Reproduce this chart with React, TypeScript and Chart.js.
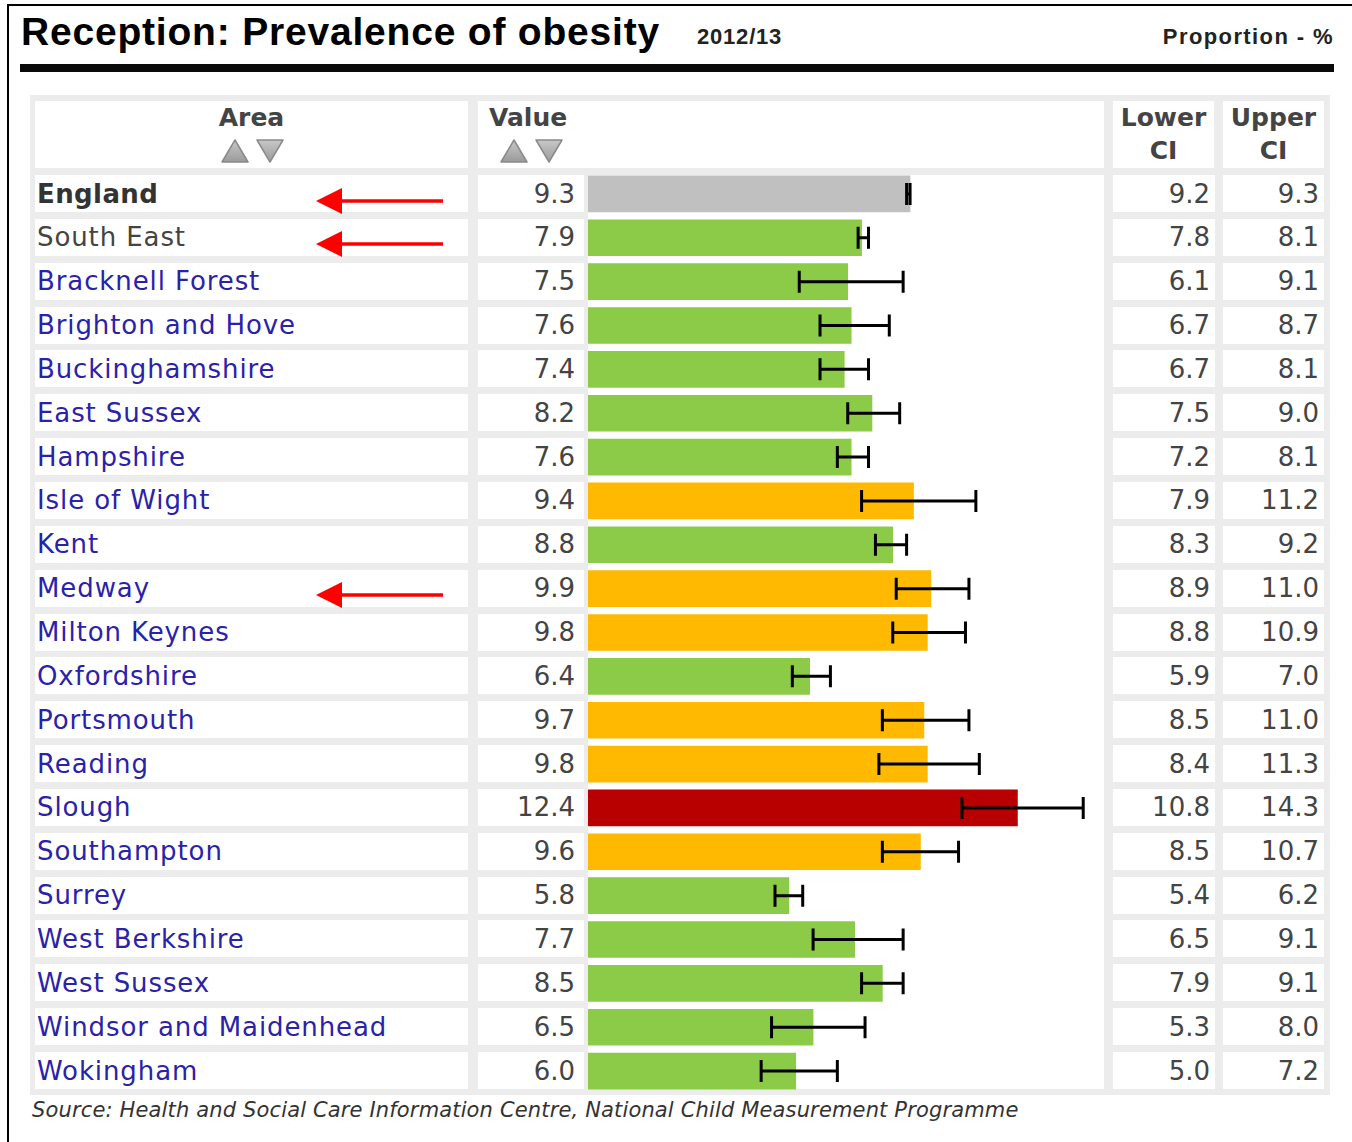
import React, { useEffect, useRef } from "react";
import { Chart, registerables } from "chart.js";
Chart.register(...registerables);

const areas = [
  "England", "South East", "Bracknell Forest", "Brighton and Hove", "Buckinghamshire",
  "East Sussex", "Hampshire", "Isle of Wight", "Kent", "Medway", "Milton Keynes",
  "Oxfordshire", "Portsmouth", "Reading", "Slough", "Southampton", "Surrey",
  "West Berkshire", "West Sussex", "Windsor and Maidenhead", "Wokingham",
];
const values = [9.3, 7.9, 7.5, 7.6, 7.4, 8.2, 7.6, 9.4, 8.8, 9.9, 9.8, 6.4, 9.7, 9.8, 12.4, 9.6, 5.8, 7.7, 8.5, 6.5, 6.0];
const lowerCI = [9.2, 7.8, 6.1, 6.7, 6.7, 7.5, 7.2, 7.9, 8.3, 8.9, 8.8, 5.9, 8.5, 8.4, 10.8, 8.5, 5.4, 6.5, 7.9, 5.3, 5.0];
const upperCI = [9.3, 8.1, 9.1, 8.7, 8.1, 9.0, 8.1, 11.2, 9.2, 11.0, 10.9, 7.0, 11.0, 11.3, 14.3, 10.7, 6.2, 9.1, 9.1, 8.0, 7.2];
// comparison with England: e = England, g = better, a = similar, r = worse
const comparison = ["e", "g", "g", "g", "g", "g", "g", "a", "g", "a", "a", "g", "a", "a", "r", "a", "g", "g", "g", "g", "g"];
const arrowRows = ["England", "South East", "Medway"];
const axisMax = 14.9;

const COLORS: Record<string, string> = { e: "#c0c0c0", g: "#8bcb47", a: "#ffb900", r: "#b80000" };

const ROW0 = 193.5;
const PITCH = 43.85;
const CELL_H = 37;
const FONT = "'DejaVu Sans', Verdana, sans-serif";

const errorBarPlugin = {
  id: "errorBars",
  afterDatasetsDraw(chart: any) {
    const meta = chart.getDatasetMeta(0);
    const xs = chart.scales.x;
    const ctx = chart.ctx;
    ctx.save();
    ctx.strokeStyle = "#000";
    ctx.lineWidth = 3;
    meta.data.forEach((el: any, i: number) => {
      const y = el.y;
      const x1 = xs.getPixelForValue(lowerCI[i]);
      const x2 = xs.getPixelForValue(upperCI[i]);
      ctx.beginPath();
      ctx.moveTo(x1, y);
      ctx.lineTo(x2, y);
      ctx.moveTo(x1, y - 11);
      ctx.lineTo(x1, y + 11);
      ctx.moveTo(x2, y - 11);
      ctx.lineTo(x2, y + 11);
      ctx.stroke();
    });
    ctx.restore();
  },
};

function Tri({ x, y, down }: { x: number; y: number; down?: boolean }) {
  const id = down ? "gd" : "gu";
  return (
    <svg style={{ position: "absolute", left: x, top: y }} width={30} height={26}>
      <defs>
        <linearGradient id={id} x1="0" y1="0" x2="0" y2="1">
          <stop offset="0" stopColor="#c8c8c8" />
          <stop offset="1" stopColor="#9a9a9a" />
        </linearGradient>
      </defs>
      <polygon
        points={down ? "2,2 28,2 15,24" : "15,2 28,24 2,24"}
        fill={`url(#${id})`}
        stroke="#8a8a8a"
        strokeWidth={1.5}
        strokeLinejoin="round"
      />
    </svg>
  );
}

function Arrow({ y }: { y: number }) {
  return (
    <svg style={{ position: "absolute", left: 312, top: y - 16 }} width={136} height={32}>
      <line x1={26} y1={16} x2={131} y2={16} stroke="#ff0000" strokeWidth={3.5} />
      <polygon points="4,16 30,3 30,29" fill="#ff0000" />
    </svg>
  );
}

export default function App() {
  const canvasRef = useRef<HTMLCanvasElement>(null);

  useEffect(() => {
    const chart = new Chart(canvasRef.current as HTMLCanvasElement, {
      type: "bar",
      data: {
        labels: areas,
        datasets: [
          {
            data: values,
            backgroundColor: comparison.map((c) => COLORS[c]),
            borderWidth: 0,
            barThickness: 36,
          },
        ],
      },
      options: {
        indexAxis: "y",
        animation: false,
        responsive: false,
        devicePixelRatio: 1,
        layout: { padding: 0 },
        plugins: { legend: { display: false }, tooltip: { enabled: false } },
        scales: {
          x: { min: 0, max: axisMax, display: false },
          y: { display: false },
        },
      },
      plugins: [errorBarPlugin],
    } as any);
    return () => chart.destroy();
  }, []);

  const abs = (s: React.CSSProperties): React.CSSProperties => ({ position: "absolute", ...s });
  const cell = (left: number, width: number, top: number, height: number): React.CSSProperties =>
    abs({ left, width, top, height, background: "#fff" });

  const chartTop = ROW0 - PITCH / 2;
  const chartH = PITCH * areas.length;

  return (
    <div style={abs({ left: 0, top: 0, width: 1352, height: 1142, background: "#fff", overflow: "hidden", fontFamily: FONT })}>
      {/* frame */}
      <div style={abs({ left: 7, top: 4, width: 1345, height: 2, background: "#000" })} />
      <div style={abs({ left: 7, top: 4, width: 2, height: 1138, background: "#000" })} />

      {/* title */}
      <div style={abs({ left: 21, top: 12, fontFamily: "'Liberation Sans', Arial, sans-serif", fontWeight: "bold", fontSize: 39, lineHeight: "39px", color: "#000", whiteSpace: "nowrap", letterSpacing: 0.8 })}>
        Reception: Prevalence of obesity
      </div>
      <div style={abs({ left: 697, top: 26, fontFamily: "'Liberation Sans', Arial, sans-serif", fontWeight: "bold", fontSize: 22, lineHeight: "22px", color: "#222", whiteSpace: "nowrap", letterSpacing: 0.8 })}>
        2012/13
      </div>
      <div style={abs({ right: 1352 - 1334, top: 26, fontFamily: "'Liberation Sans', Arial, sans-serif", fontWeight: "bold", fontSize: 22, lineHeight: "22px", color: "#222", whiteSpace: "nowrap", letterSpacing: 1.4 })}>
        Proportion - %
      </div>
      <div style={abs({ left: 20, top: 64, width: 1314, height: 8, background: "#0a0a0a" })} />

      {/* table background */}
      <div style={abs({ left: 30, top: 95, width: 1300, height: 1000, background: "#ececec" })} />

      {/* header cells */}
      <div style={cell(35, 433, 101, 67)} />
      <div style={cell(478, 626, 101, 67)} />
      <div style={cell(1113, 101, 101, 67)} />
      <div style={cell(1223, 101, 101, 67)} />
      <div style={abs({ left: 35, width: 433, top: 101, textAlign: "center", fontWeight: "bold", fontSize: 25, lineHeight: "34px", color: "#444" })}>Area</div>
      <Tri x={220} y={138} />
      <Tri x={255} y={138} down />
      <div style={abs({ left: 489, top: 101, fontWeight: "bold", fontSize: 25, lineHeight: "34px", color: "#444" })}>Value</div>
      <Tri x={499} y={138} />
      <Tri x={534} y={138} down />
      <div style={abs({ left: 1113, width: 101, top: 101, textAlign: "center", fontWeight: "bold", fontSize: 25, lineHeight: "33px", color: "#444" })}>
        Lower<br />CI
      </div>
      <div style={abs({ left: 1223, width: 101, top: 101, textAlign: "center", fontWeight: "bold", fontSize: 25, lineHeight: "33px", color: "#444" })}>
        Upper<br />CI
      </div>

      {/* bar column background */}
      <div style={cell(588, 516, ROW0 - CELL_H / 2, PITCH * (areas.length - 1) + CELL_H)} />

      {/* rows */}
      {areas.map((a, i) => {
        const top = ROW0 + i * PITCH - CELL_H / 2;
        const isEng = i === 0;
        const nameColor = i === 0 ? "#333" : i === 1 ? "#444" : "#2a22a8";
        const txt: React.CSSProperties = { display: "flex", alignItems: "center", fontSize: 26, whiteSpace: "nowrap" };
        return (
          <React.Fragment key={a}>
            <div style={{ ...cell(35, 433, top, CELL_H), ...txt, paddingLeft: 2, boxSizing: "border-box", color: nameColor, fontWeight: isEng ? "bold" : "normal", letterSpacing: isEng ? 0.4 : 0.9 }}>{a}</div>
            <div style={{ ...cell(478, 106, top, CELL_H), ...txt, justifyContent: "flex-end", paddingRight: 9, boxSizing: "border-box", color: "#444" }}>{values[i].toFixed(1)}</div>
            <div style={{ ...cell(1113, 102, top, CELL_H), ...txt, justifyContent: "flex-end", paddingRight: 5, boxSizing: "border-box", color: "#444" }}>{lowerCI[i].toFixed(1)}</div>
            <div style={{ ...cell(1223, 101, top, CELL_H), ...txt, justifyContent: "flex-end", paddingRight: 5, boxSizing: "border-box", color: "#444" }}>{upperCI[i].toFixed(1)}</div>
            {arrowRows.includes(a) && <Arrow y={ROW0 + i * PITCH + 7} />}
          </React.Fragment>
        );
      })}

      {/* chart */}
      <canvas
        ref={canvasRef}
        width={516}
        height={Math.round(chartH)}
        style={abs({ left: 588, top: chartTop, width: 516, height: Math.round(chartH) })}
      />

      {/* source */}
      <div style={abs({ left: 32, top: 1097, fontStyle: "italic", fontSize: 21, lineHeight: "26px", color: "#333", whiteSpace: "nowrap", letterSpacing: 0.15 })}>
        Source: Health and Social Care Information Centre, National Child Measurement Programme
      </div>
    </div>
  );
}
